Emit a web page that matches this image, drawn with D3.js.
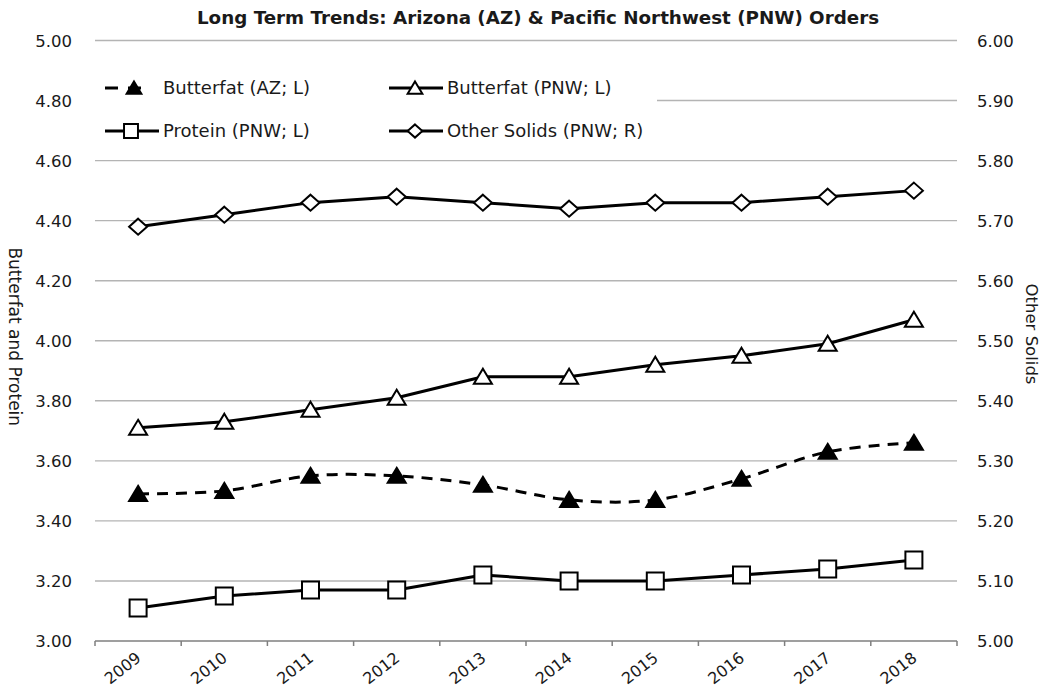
<!DOCTYPE html>
<html>
<head>
<meta charset="utf-8">
<script src="https://cdn.jsdelivr.net/npm/d3@7"></script>
<style>
  body { margin: 0; background: #fff; }
  text { font-family: "DejaVu Sans", sans-serif; fill: #1a1a1a; }
</style>
</head>
<body>
<div id="chart"></div>
<script>

var years = ["2009", "2010", "2011", "2012", "2013", "2014", "2015", "2016", "2017", "2018"];
var butterfatAZ = [3.49, 3.50, 3.55, 3.55, 3.52, 3.47, 3.47, 3.54, 3.63, 3.66];
var butterfatPNW = [3.71, 3.73, 3.77, 3.81, 3.88, 3.88, 3.92, 3.95, 3.99, 4.07];
var proteinPNW = [3.11, 3.15, 3.17, 3.17, 3.22, 3.20, 3.20, 3.22, 3.24, 3.27];
var otherSolidsPNW = [5.69, 5.71, 5.73, 5.74, 5.73, 5.72, 5.73, 5.73, 5.74, 5.75];
var leftTicks = [3.0, 3.2, 3.4, 3.6, 3.8, 4.0, 4.2, 4.4, 4.6, 4.8, 5.0];
var rightTicks = [5.0, 5.1, 5.2, 5.3, 5.4, 5.5, 5.6, 5.7, 5.8, 5.9, 6.0];

var width = 1045, height = 692;
var margin = {top: 40.5, right: 88, bottom: 51, left: 95};

var svg = d3.select("#chart").append("svg")
  .attr("width", width)
  .attr("height", height);

var x = d3.scaleBand()
  .domain(years)
  .range([margin.left, width - margin.right])
  .padding(0);

var yL = d3.scaleLinear().domain([3, 5]).range([height - margin.bottom, margin.top]);
var yR = d3.scaleLinear().domain([5, 6]).range([height - margin.bottom, margin.top]);

// gridlines
svg.append("g")
  .selectAll("line")
  .data(leftTicks.slice(1))
  .enter().append("line")
  .attr("x1", margin.left)
  .attr("x2", width - margin.right)
  .attr("y1", function(d) { return yL(d); })
  .attr("y2", function(d) { return yL(d); })
  .style("stroke", "#b4b4b4")
  .style("stroke-width", 1.4);

// left labels
svg.append("g")
  .selectAll("text")
  .data(leftTicks)
  .enter().append("text")
  .attr("x", 72)
  .attr("y", function(d) { return yL(d) + 6; })
  .style("text-anchor", "end")
  .style("font-size", "16.5px")
  .text(function(d) { return d.toFixed(2); });

// right labels
svg.append("g")
  .selectAll("text")
  .data(rightTicks)
  .enter().append("text")
  .attr("x", 977)
  .attr("y", function(d) { return yR(d) + 6; })
  .style("text-anchor", "start")
  .style("font-size", "16.5px")
  .text(function(d) { return d.toFixed(2); });

// x axis
var xAxis = svg.append("g")
  .attr("transform", "translate(0," + (height - margin.bottom) + ")");

xAxis.append("line")
  .attr("x1", margin.left)
  .attr("x2", width - margin.right)
  .style("stroke", "#7f7f7f")
  .style("stroke-width", 1.5);

xAxis.selectAll(".tickmark")
  .data(years.concat(["end"]))
  .enter().append("line")
  .attr("class", "tickmark")
  .attr("x1", function(d) { return d === "end" ? width - margin.right : x(d); })
  .attr("x2", function(d) { return d === "end" ? width - margin.right : x(d); })
  .attr("y1", 0)
  .attr("y2", 5)
  .style("stroke", "#7f7f7f")
  .style("stroke-width", 1.5);

xAxis.selectAll(".yearlabel")
  .data(years)
  .enter().append("text")
  .attr("class", "yearlabel")
  .attr("transform", function(d) {
    return "translate(" + (x(d) + x.bandwidth() / 2 + 4) + ",19) rotate(-38)";
  })
  .style("text-anchor", "end")
  .style("font-size", "16px")
  .text(function(d) { return d; });

// axis titles
svg.append("text")
  .attr("transform", "translate(9," + ((margin.top + height - margin.bottom) / 2 - 4) + ") rotate(90)")
  .style("text-anchor", "middle")
  .style("font-size", "17px")
  .text("Butterfat and Protein");

svg.append("text")
  .attr("transform", "translate(1026,334) rotate(90)")
  .style("text-anchor", "middle")
  .style("font-size", "16.5px")
  .text("Other Solids");

// title
svg.append("text")
  .attr("x", 538)
  .attr("y", 24)
  .style("text-anchor", "middle")
  .style("font-size", "18.3px")
  .style("font-weight", "bold")
  .text("Long Term Trends: Arizona (AZ) & Pacific Northwest (PNW) Orders");

// markers
var triPath = "M0,-8L9,7L-9,7Z";
var sqPath = "M-8.5,-8.5H8.5V8.5H-8.5Z";
var diaPath = "M0,-8L9,0L0,8L-9,0Z";

var series = [
  {name: "Butterfat (AZ; L)", values: butterfatAZ, y: yL, dash: "11,8", marker: triPath, fill: "#000", smooth: true},
  {name: "Butterfat (PNW; L)", values: butterfatPNW, y: yL, dash: null, marker: triPath, fill: "#fff", smooth: false},
  {name: "Protein (PNW; L)", values: proteinPNW, y: yL, dash: null, marker: sqPath, fill: "#fff", smooth: false},
  {name: "Other Solids (PNW; R)", values: otherSolidsPNW, y: yR, dash: null, marker: diaPath, fill: "#fff", smooth: false}
];

series.forEach(function(s) {
  var line = d3.line()
    .x(function(d, i) { return x(years[i]) + x.bandwidth() / 2; })
    .y(function(d) { return s.y(d); })
    .curve(s.smooth ? d3.curveCardinal.tension(0) : d3.curveLinear);

  svg.append("path")
    .datum(s.values)
    .attr("d", line)
    .style("fill", "none")
    .style("stroke", "#000")
    .style("stroke-width", 3)
    .style("stroke-dasharray", s.dash)
    .style("stroke-linejoin", "round");

  svg.append("g")
    .selectAll("path")
    .data(s.values)
    .enter().append("path")
    .attr("d", s.marker)
    .attr("transform", function(d, i) {
      return "translate(" + (x(years[i]) + x.bandwidth() / 2) + "," + s.y(d) + ")";
    })
    .style("fill", s.fill)
    .style("stroke", "#000")
    .style("stroke-width", 2);
});

// legend
var legend = svg.append("g");
legend.append("rect")
  .attr("x", margin.left)
  .attr("y", 62)
  .attr("width", 562)
  .attr("height", 88)
  .style("fill", "#fff");

var legendPos = [
  {x: 105, y: 88},
  {x: 389, y: 88},
  {x: 105, y: 131},
  {x: 389, y: 131}
];

series.forEach(function(s, i) {
  var p = legendPos[i];
  var g = legend.append("g").attr("transform", "translate(" + p.x + "," + p.y + ")");
  g.append("line")
    .attr("x1", 0)
    .attr("x2", s.dash ? 40 : 54)
    .style("stroke", "#000")
    .style("stroke-width", 3)
    .style("stroke-dasharray", s.dash ? "13,10" : null);
  g.append("path")
    .attr("d", s.marker)
    .attr("transform", "translate(" + (i === 0 ? 29 : 26) + ",0) scale(0.82)")
    .style("fill", s.fill)
    .style("stroke", "#000")
    .style("stroke-width", 2.4);
  g.append("text")
    .attr("x", 58)
    .attr("y", 6)
    .style("font-size", "18px")
    .text(s.name);
});

</script>
</body>
</html>
